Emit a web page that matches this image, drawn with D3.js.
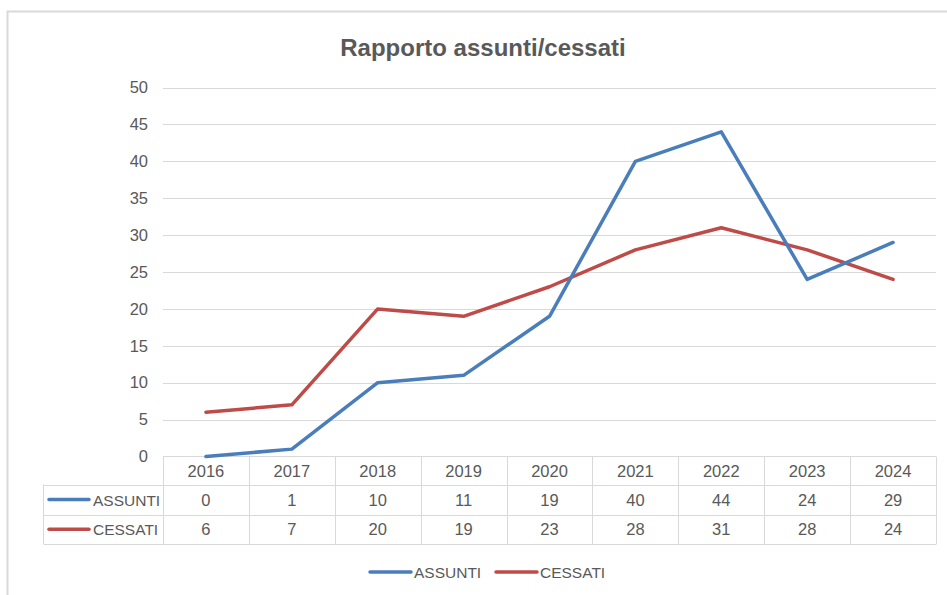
<!DOCTYPE html>
<html>
<head>
<meta charset="utf-8">
<script src="https://cdn.jsdelivr.net/npm/d3@7"></script>
<style>
  body { margin: 0; background: #fff; }
  text { font-family: "Liberation Sans", Arial, sans-serif; fill: #595959; }
</style>
</head>
<body>
<svg width="947" height="595"></svg>
<script>
var years = ["2016", "2017", "2018", "2019", "2020", "2021", "2022", "2023", "2024"];
var assunti = [0, 1, 10, 11, 19, 40, 44, 24, 29];
var cessati = [6, 7, 20, 19, 23, 28, 31, 28, 24];
var yTicks = [0, 5, 10, 15, 20, 25, 30, 35, 40, 45, 50];

var series = [
  { name: "ASSUNTI", values: assunti, color: "#4a7ebb" },
  { name: "CESSATI", values: cessati, color: "#be4b48" }
];

var svg = d3.select("svg");

// chart frame
svg.append("rect")
  .attr("x", 7.5).attr("y", 11.5)
  .attr("width", 960).attr("height", 600)
  .attr("fill", "none")
  .attr("stroke", "#d9d9d9")
  .attr("stroke-width", 2);

svg.append("text")
  .attr("x", 483).attr("y", 56)
  .attr("text-anchor", "middle")
  .style("font-size", "24px")
  .style("font-weight", "bold")
  .text("Rapporto assunti/cessati");

var plotLeft = 163, plotRight = 936, plotTop = 87.5, plotBottom = 456.5;

var x = d3.scaleBand().domain(years).range([plotLeft, plotRight]);
var y = d3.scaleLinear().domain([0, 50]).range([plotBottom, plotTop]);

// gridlines
svg.append("g")
  .selectAll("line")
  .data(yTicks.filter(function (d) { return d > 0; }))
  .join("line")
  .attr("x1", plotLeft).attr("x2", plotRight)
  .attr("y1", function (d) { return Math.round(y(d)) + 0.5; })
  .attr("y2", function (d) { return Math.round(y(d)) + 0.5; })
  .attr("stroke", "#d9d9d9");

// y axis labels
var yAxis = d3.axisLeft(y).tickValues(yTicks).tickSize(0).tickPadding(15);
var yG = svg.append("g")
  .attr("transform", "translate(" + plotLeft + ",0)")
  .call(yAxis);
yG.select(".domain").remove();
yG.selectAll("text")
  .style("font-size", "16.5px")
  .style("font-family", "'Liberation Sans', Arial, sans-serif")
  .attr("fill", "#595959");

// data table
var rowH = [28, 30, 29.5];
var rowTop = [plotBottom, plotBottom + rowH[0], plotBottom + rowH[0] + rowH[1]];
var tableBottom = rowTop[2] + rowH[2];
var labelLeft = 43.5;

var tbl = svg.append("g").attr("stroke", "#d9d9d9").attr("fill", "none");
years.forEach(function (d) {
  tbl.append("line")
    .attr("x1", Math.round(x(d)) + 0.5).attr("x2", Math.round(x(d)) + 0.5)
    .attr("y1", plotBottom).attr("y2", tableBottom);
});
tbl.append("line")
  .attr("x1", plotRight + 0.5).attr("x2", plotRight + 0.5)
  .attr("y1", plotBottom).attr("y2", tableBottom);
tbl.append("line")
  .attr("x1", labelLeft).attr("x2", labelLeft)
  .attr("y1", rowTop[1]).attr("y2", tableBottom);
tbl.append("line").attr("x1", plotLeft).attr("x2", plotRight).attr("y1", plotBottom).attr("y2", plotBottom);
[rowTop[1], rowTop[2], tableBottom].forEach(function (yy) {
  tbl.append("line")
    .attr("x1", labelLeft).attr("x2", plotRight + 0.5)
    .attr("y1", Math.round(yy) + 0.5).attr("y2", Math.round(yy) + 0.5);
});

svg.append("g").selectAll("text")
  .data(years)
  .join("text")
  .attr("x", function (d) { return x(d) + x.bandwidth() / 2; })
  .attr("y", rowTop[0] + rowH[0] / 2 + 6)
  .attr("text-anchor", "middle")
  .style("font-size", "16.5px")
  .text(function (d) { return d; });

series.forEach(function (s, i) {
  var cy = rowTop[i + 1] + rowH[i + 1] / 2;
  svg.append("line")
    .attr("x1", 49).attr("x2", 89)
    .attr("y1", cy).attr("y2", cy)
    .attr("stroke", s.color)
    .attr("stroke-width", 3.5)
    .attr("stroke-linecap", "round");
  svg.append("text")
    .attr("x", 93).attr("y", cy + 6)
    .style("font-size", "15.5px")
    .text(s.name);
  svg.append("g").selectAll("text")
    .data(s.values)
    .join("text")
    .attr("x", function (d, j) { return x(years[j]) + x.bandwidth() / 2; })
    .attr("y", cy + 6)
    .attr("text-anchor", "middle")
    .style("font-size", "16.5px")
    .text(function (d) { return d; });
});

// lines
var line = d3.line()
  .x(function (d, j) { return x(years[j]) + x.bandwidth() / 2; })
  .y(function (d) { return y(d); });

series.slice().reverse().forEach(function (s) {
  svg.append("path")
    .datum(s.values)
    .attr("d", line)
    .attr("fill", "none")
    .attr("stroke", s.color)
    .attr("stroke-width", 3.5)
    .attr("stroke-linejoin", "round")
    .attr("stroke-linecap", "round");
});

// legend
var legend = svg.append("g");
var legendItems = [{ s: series[0], x: 370 }, { s: series[1], x: 496 }];
legendItems.forEach(function (it) {
  legend.append("line")
    .attr("x1", it.x).attr("x2", it.x + 41)
    .attr("y1", 572).attr("y2", 572)
    .attr("stroke", it.s.color)
    .attr("stroke-width", 3.5)
    .attr("stroke-linecap", "round");
  legend.append("text")
    .attr("x", it.x + 44).attr("y", 578)
    .style("font-size", "15.5px")
    .text(it.s.name);
});
</script>
</body>
</html>
